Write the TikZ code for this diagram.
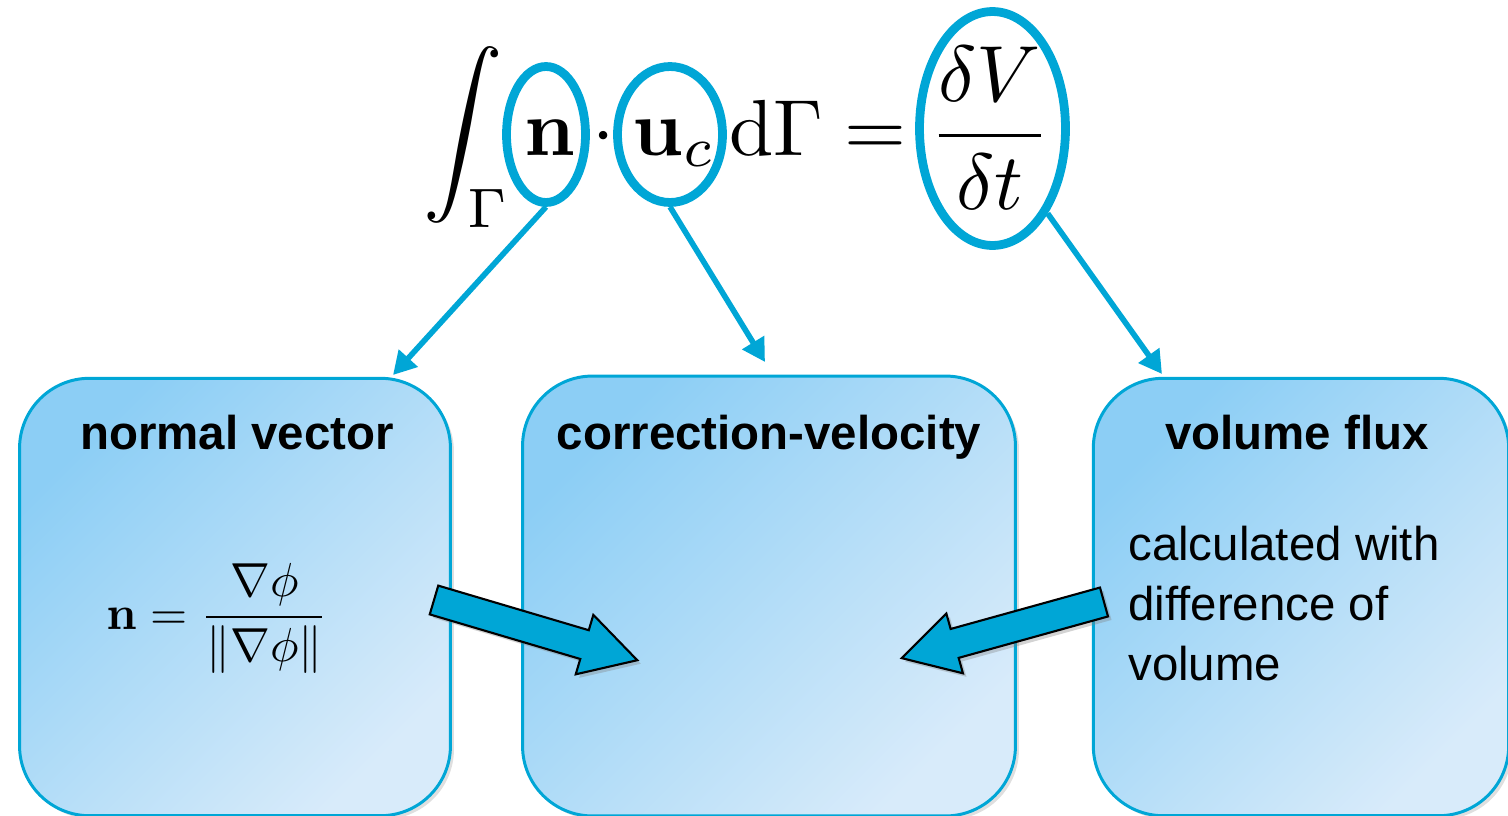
\documentclass[tikz,border=0pt]{standalone}
\usepackage{amsmath}
\usepackage{graphicx}
\usepackage[no-math]{fontspec}
\newfontfamily\arial{Liberation Sans}
\usetikzlibrary{arrows.meta,shapes.geometric,shadows,positioning}
\definecolor{ringblue}{RGB}{0,166,214}
\definecolor{boxtop}{RGB}{140,206,245}
\definecolor{boxbot}{RGB}{216,235,250}

\begin{document}
\begin{tikzpicture}[
    x=0.02cm, y=-0.02cm,
    panel/.style={draw=ringblue, line width=1.7pt, rounded corners=1.4cm, top color=boxtop, bottom color=boxbot, shading angle=45,
        drop shadow={shadow xshift=2pt, shadow yshift=-2pt, opacity=0.25}},
    ring/.style={ellipse, draw=ringblue, line width=5pt, inner sep=0pt},
    ptr/.style={draw=ringblue, line width=3.2pt, -{Triangle[length=13pt, width=14pt]}},
    fat/.style={fill=ringblue, draw=black, line width=1.2pt, line join=miter,
        drop shadow={shadow xshift=2pt, shadow yshift=-2pt, opacity=0.35}},
    title/.style={font=\arial\fontsize{27}{33}\selectfont\bfseries, anchor=base, inner sep=0pt},
    note/.style={font=\arial\fontsize{27}{34}\selectfont, align=left, anchor=base west, inner sep=0pt}
]
\useasboundingbox (0,0) rectangle (1508,815);
\clip (0,0) rectangle (1508,815);

% Boxes
\node[panel, minimum width=8.62cm, minimum height=8.75cm] (normbox) at (235,597) {};
\node[panel, minimum width=9.86cm, minimum height=8.8cm] (corrbox) at (769,596) {};
\node[panel, minimum width=8.31cm, minimum height=8.75cm] (fluxbox) at (1301,597) {};

% Titles
\node[title] (normtitle) at (237,449) {normal vector};
\node[title] (corrtitle) at (769,449) {correction-velocity};
\node[title] (fluxtitle) at (1297,449) {volume flux};

% Box contents
\node[anchor=base west, inner sep=0pt] (normeq) at (106,629)
    {\scalebox{2.72}{$\displaystyle \mathbf{n} = \frac{\nabla\phi}{\|\nabla\phi\|}$}};
\node[note] (fluxnote) at (1128,680) {calculated with\\difference of\\volume};

% Balance equation
\node[anchor=base west, inner sep=0pt] (balance) at (423,155)
    {\scalebox{4.53}{$\displaystyle \int_\Gamma \mathbf{n}\cdot\mathbf{u}_c\,\mathrm{d}\Gamma = \frac{\delta V}{\delta t}$}};

% Highlight rings
\node[ring, minimum width=1.58cm, minimum height=2.72cm] (nring) at (546,134.5) {};
\node[ring, minimum width=2.1cm, minimum height=2.72cm] (uring) at (670,134.5) {};
\node[ring, minimum width=2.92cm, minimum height=4.68cm] (fring) at (992.5,128.5) {};

% Connectors
\coordinate (ntip) at (393,375);
\coordinate (utip) at (765,362);
\coordinate (ftip) at (1162,374);
\draw[ptr] (nring.south) -- (ntip);
\draw[ptr] (uring.south) -- (utip);
\draw[ptr] (fring.-57) -- (ftip);

% Block arrows into the middle box
\begin{scope}[shift={(434,600)}, rotate=-16.5]
  \draw[fat] (0,-15) -- (157,-15) -- (157,-31) -- (212,0) -- (157,31) -- (157,15) -- (0,15) -- cycle;
\end{scope}
\begin{scope}[shift={(1104,602)}, rotate=195.5]
  \draw[fat] (0,-15) -- (155,-15) -- (155,-31) -- (210,0) -- (155,31) -- (155,15) -- (0,15) -- cycle;
\end{scope}
\end{tikzpicture}
\end{document}
